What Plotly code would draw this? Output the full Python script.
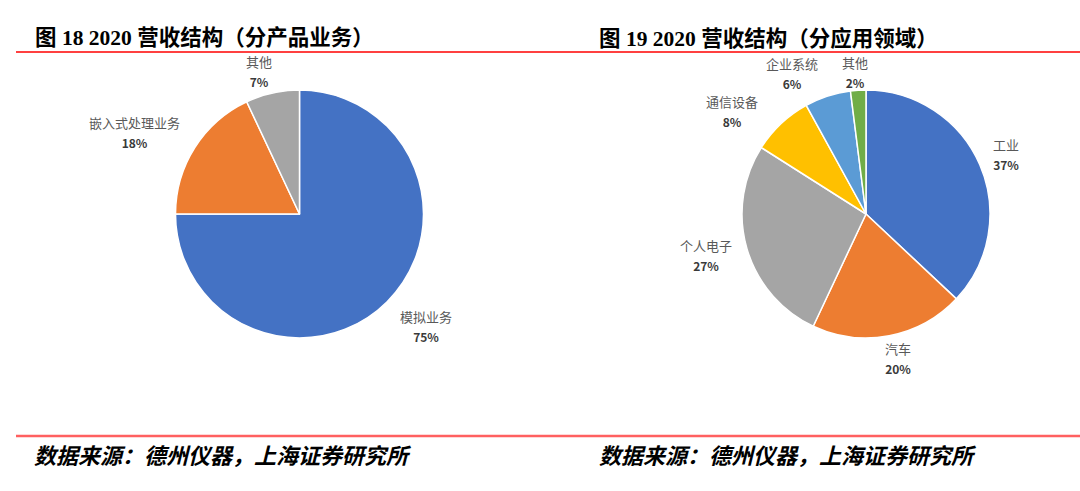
import math
import plotly.graph_objects as go

# ---------------- Data ----------------
prod_labels = ["模拟业务", "嵌入式处理业务", "其他"]
prod_values = [75, 18, 7]
prod_colors = ["#4472C4", "#ED7D31", "#A5A5A5"]

app_labels = ["工业", "汽车", "个人电子", "通信设备", "企业系统", "其他"]
app_values = [37, 20, 27, 8, 6, 2]
app_colors = ["#4472C4", "#ED7D31", "#A5A5A5", "#FFC000", "#5B9BD5", "#70AD47"]

title_left = "图 18 2020 营收结构（分产品业务）"
title_right = "图 19 2020 营收结构（分应用领域）"
source_text = "数据来源：德州仪器，上海证券研究所"

# ---------------- Layout ----------------
W, H = 1080, 491
R = 124            # pie radius in px
CY = 214           # pie centre y in px
CX_LEFT, CX_RIGHT = 299.5, 866
GAP = 10           # label distance outside the rim
# small pixel nudges for label placement (Excel "best fit" look)
prod_nudges = [(4, -4), (-4, 11), (-11, 9)]
app_nudges = [(2, -7), (7, -9), (-3, 4), (-14, 16), (-5, 7), (-3, 13)]


def dom(cx):
    return dict(x=[(cx - R) / W, (cx + R) / W],
                y=[(H - CY - R) / H, (H - CY + R) / H])


def px(x, y):
    return x / W, 1 - y / H


common = dict(
    sort=False, direction="clockwise", rotation=0,
    textinfo="none",
    marker_line=dict(color="white", width=1.5),
    showlegend=False, hoverinfo="label+value",
)

fig = go.Figure()
fig.add_trace(go.Pie(labels=prod_labels, values=prod_values,
                     marker_colors=prod_colors, domain=dom(CX_LEFT), **common))
fig.add_trace(go.Pie(labels=app_labels, values=app_values,
                     marker_colors=app_colors, domain=dom(CX_RIGHT), **common))


def slice_labels(cx, labels, values, nudges):
    anns = []
    total = sum(values)
    cum = 0
    for lab, v, (ndx, ndy) in zip(labels, values, nudges):
        mid = (cum + v / 2) / total * 2 * math.pi
        cum += v
        s, c = math.sin(mid), math.cos(mid)
        x = cx + (R + GAP) * s + ndx
        y = CY - (R + GAP) * c + ndy
        xa = "left" if s > 0.25 else ("right" if s < -0.25 else "center")
        ya = "bottom" if c > 0.5 else ("top" if c < -0.5 else "middle")
        ax, ay = px(x, y)
        anns.append(dict(
            text=(f"<span style='font-size:13px;color:#595959'>{lab}</span><br>"
                  f"<span style='font-size:12px;color:#3a3a3a'><b>{v}%</b></span>"),
            x=ax, y=ay, xref="paper", yref="paper", xanchor=xa, yanchor=ya,
            align="center", showarrow=False,
            font=dict(family="Noto Sans CJK SC", size=15, color="#595959"),
        ))
    return anns


title_font = dict(family="Liberation Serif, Noto Sans CJK SC", size=21.5, color="black")
src_font = dict(family="Noto Sans CJK SC", size=22, color="black", style="italic")

annotations = [
    dict(text=f"<b>{title_left}</b>", x=33 / W, y=1 - 38 / H, xref="paper", yref="paper",
         xanchor="left", yanchor="middle", showarrow=False, font=title_font),
    dict(text=f"<b>{title_right}</b>", x=597 / W, y=1 - 38 / H, xref="paper", yref="paper",
         xanchor="left", yanchor="middle", showarrow=False, font=title_font),
    dict(text=f"<b>{source_text}</b>", x=32 / W, y=1 - 454 / H, xref="paper", yref="paper",
         xanchor="left", yanchor="middle", showarrow=False, font=src_font),
    dict(text=f"<b>{source_text}</b>", x=597 / W, y=1 - 454 / H, xref="paper", yref="paper",
         xanchor="left", yanchor="middle", showarrow=False, font=src_font),
]
annotations += slice_labels(CX_LEFT, prod_labels, prod_values, prod_nudges)
annotations += slice_labels(CX_RIGHT, app_labels, app_values, app_nudges)

shapes = [
    dict(type="line", xref="paper", yref="paper", x0=16 / W, x1=1, y0=1 - 52 / H, y1=1 - 52 / H,
         line=dict(color="#FF4040", width=2)),
    dict(type="line", xref="paper", yref="paper", x0=16 / W, x1=1, y0=1 - 436 / H, y1=1 - 436 / H,
         line=dict(color="#FF6060", width=2.5)),
]

fig.update_layout(
    width=W, height=H, margin=dict(l=0, r=0, t=0, b=0),
    paper_bgcolor="white", plot_bgcolor="white",
    annotations=annotations, shapes=shapes,
)

fig.write_html("out.html", config={"displayModeBar": False},
               post_script="document.body.style.margin='0';")
